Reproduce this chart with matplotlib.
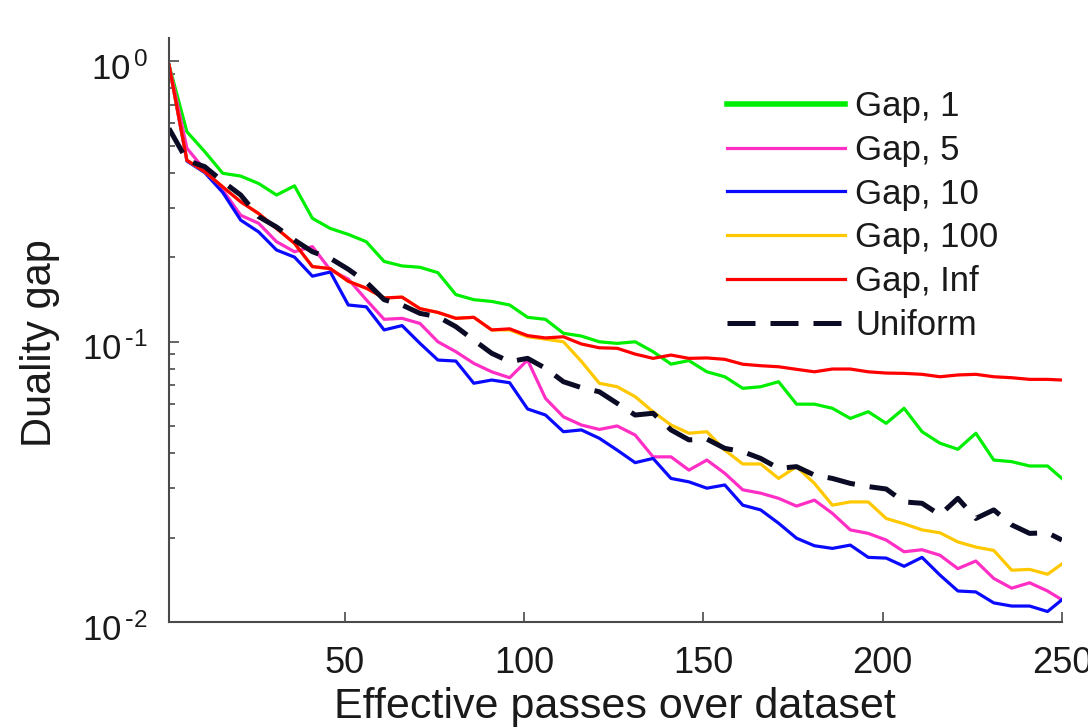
import numpy as np
import matplotlib
matplotlib.use('Agg')
import matplotlib.pyplot as plt
import matplotlib.transforms as mtrans

plt.rcParams['font.family'] = ['Liberation Sans', 'DejaVu Sans']
plt.rcParams['mathtext.default'] = 'regular'

# effective passes (x) and duality gap per sampling scheme
passes = list(range(1, 247, 5)) + [250]

gap_1 = [0.97, 0.560, 0.475, 0.398, 0.389, 0.366, 0.333, 0.359, 0.275, 0.253,
         0.241, 0.227, 0.193, 0.186, 0.184, 0.176, 0.147, 0.141, 0.139, 0.135,
         0.122, 0.120, 0.107, 0.1046, 0.0998, 0.0985, 0.0998, 0.092, 0.0831, 0.0855,
         0.0780, 0.0749, 0.0681, 0.0690, 0.0719, 0.0598, 0.0598, 0.0578, 0.0532, 0.0562,
         0.0511, 0.0578, 0.0477, 0.0434, 0.0413, 0.0471, 0.0378, 0.0373, 0.0360, 0.0360,
         0.0325]
gap_5 = [0.97, 0.489, 0.409, 0.347, 0.282, 0.264, 0.227, 0.209, 0.218, 0.180,
         0.167, 0.141, 0.120, 0.121, 0.116, 0.0998, 0.092, 0.0836, 0.0780, 0.0743,
         0.0859, 0.0627, 0.0539, 0.0504, 0.0486, 0.0500, 0.0464, 0.0388, 0.0388, 0.0348,
         0.0378, 0.0339, 0.0296, 0.0288, 0.0276, 0.0259, 0.0272, 0.0244, 0.0213, 0.0207,
         0.0196, 0.0178, 0.0181, 0.0173, 0.0155, 0.0165, 0.0143, 0.0132, 0.0138, 0.0129,
         0.0120]
gap_10 = [0.97, 0.44, 0.40, 0.34, 0.271, 0.246, 0.212, 0.200, 0.171, 0.177,
          0.135, 0.133, 0.110, 0.114, 0.0985, 0.0859, 0.0852, 0.0710, 0.0729, 0.0713,
          0.0575, 0.0547, 0.0477, 0.0484, 0.0452, 0.0410, 0.0370, 0.0383, 0.0325, 0.0316,
          0.0300, 0.0308, 0.0261, 0.0251, 0.0225, 0.0199, 0.0187, 0.0183, 0.0188, 0.0170,
          0.0169, 0.0158, 0.0170, 0.0147, 0.0129, 0.0128, 0.0117, 0.0114, 0.0114, 0.0109,
          0.0120]
gap_100 = [0.97, 0.443, 0.403, 0.356, 0.315, 0.286, 0.253, 0.224, 0.185, 0.182,
           0.164, 0.155, 0.143, 0.144, 0.131, 0.127, 0.121, 0.122, 0.110, 0.110,
           0.104, 0.102, 0.0998, 0.0850, 0.0710, 0.0690, 0.0636, 0.0562, 0.0504, 0.0471,
           0.0477, 0.0410, 0.0366, 0.0366, 0.0325, 0.0358, 0.0312, 0.0261, 0.0268, 0.0268,
           0.0234, 0.0224, 0.0213, 0.0208, 0.0193, 0.0185, 0.0180, 0.0153, 0.0154, 0.0148,
           0.0161]
gap_inf = [0.97, 0.443, 0.403, 0.356, 0.315, 0.286, 0.253, 0.224, 0.185, 0.182,
           0.164, 0.155, 0.143, 0.144, 0.131, 0.127, 0.121, 0.122, 0.110, 0.111,
           0.105, 0.103, 0.104, 0.098, 0.095, 0.0946, 0.0902, 0.0871, 0.0895, 0.0871,
           0.0874, 0.0864, 0.0830, 0.0820, 0.0813, 0.0796, 0.0780, 0.0798, 0.0798, 0.0780,
           0.0772, 0.0770, 0.0764, 0.0749, 0.0760, 0.0764, 0.0749, 0.0743, 0.0733, 0.0733,
           0.0729]
uniform = [0.575, 0.443, 0.420, 0.372, 0.333, 0.279, 0.256, 0.230, 0.209, 0.198,
           0.181, 0.163, 0.141, 0.135, 0.126, 0.1226, 0.113, 0.1012, 0.0908, 0.0848,
           0.0871, 0.0803, 0.0719, 0.0685, 0.0662, 0.0602, 0.0547, 0.0555, 0.0484, 0.0446,
           0.0449, 0.0416, 0.0405, 0.0383, 0.0353, 0.0358, 0.0334, 0.0325, 0.0312, 0.0304,
           0.0298, 0.0268, 0.0265, 0.0241, 0.0276, 0.0234, 0.0251, 0.0222, 0.0207, 0.0208,
           0.0196]

labels = ['Gap, 1', 'Gap, 5', 'Gap, 10', 'Gap, 100', 'Gap, Inf', 'Uniform']
colors = ['#00ee00', '#ff2ec4', '#0a0aff', '#ffc800', '#ff0000', '#0b0b26']
ytick_vals = [0.01, 0.1, 1]
ytick_text = [r'$10^{\,\text{-}2}$', r'$10^{\,\text{-}1}$', r'$10^{\,0}$']
xtick_vals = [50, 100, 150, 200, 250]

fig = plt.figure(figsize=(10.88, 7.28), dpi=100)
ax = fig.add_axes([0.1553, 0.1456, 0.8207, 0.8024])

series = [gap_1, gap_5, gap_10, gap_100, gap_inf]
for vals, lab, col in zip(series, labels[:5], colors[:5]):
    ax.plot(passes, vals, color=col, lw=2.3, label=lab)
ax.plot(passes, uniform, color=colors[5], lw=3.6, dashes=(5.6, 3.0), label=labels[5])

ax.set_yscale('log')
ax.set_xlim(1, 250)
ax.set_ylim(0.01, 1.21)
ax.set_xticks(xtick_vals)
ax.set_yticks(ytick_vals)
ax.set_yticklabels(ytick_text)

for s in ['top', 'right']:
    ax.spines[s].set_visible(False)
for s in ['left', 'bottom']:
    ax.spines[s].set_color('#4a4a4a')
    ax.spines[s].set_linewidth(1.5)

ax.tick_params(which='major', direction='in', length=7, width=1.2, color='#4a4a4a',
               labelcolor='#1a1a1a')
ax.tick_params(axis='x', labelsize=26, pad=17)
ax.tick_params(axis='y', labelsize=25, pad=15)
ax.tick_params(which='minor', direction='in', length=4.5, width=1.2, color='#4a4a4a')
ax.tick_params(axis='x', which='minor', bottom=False)

# MATLAB-style exponent labels sit a little below the tick
shift = mtrans.ScaledTranslation(0, -5 / 100, fig.dpi_scale_trans)
for lbl in ax.get_yticklabels():
    lbl.set_transform(lbl.get_transform() + shift)

ax.set_xlabel('Effective passes over dataset', fontsize=31, color='#1a1a1a', va='top')
ax.xaxis.set_label_coords(0.5, (622 - 687) / 584)
ax.set_ylabel('Duality gap', fontsize=30, color='#1a1a1a')
ax.yaxis.set_label_coords((60 - 169) / 893, (622 - 343) / 584)

leg = ax.legend(loc='upper left', bbox_to_anchor=(727 / 1088, 1 - 90 / 728),
                bbox_transform=fig.transFigure, frameon=False, fontsize=25,
                handlelength=3.4, handletextpad=0.29, labelspacing=0.31,
                borderpad=0, borderaxespad=0)
for t in leg.get_texts():
    t.set_color('#1a1a1a')
leg.get_lines()[0].set_linewidth(4.0)

fig.savefig('out.png', dpi=100)
